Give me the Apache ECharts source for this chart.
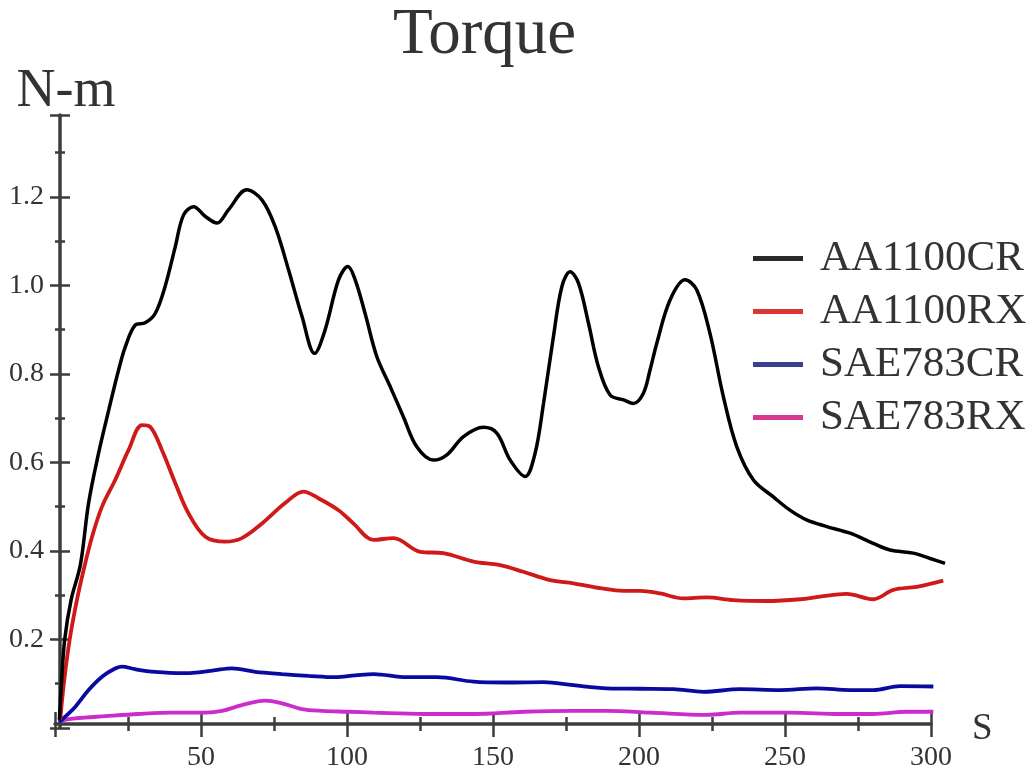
<!DOCTYPE html>
<html>
<head>
<meta charset="utf-8">
<title>Torque</title>
<script src="https://cdn.jsdelivr.net/npm/echarts@6/dist/echarts.min.js"></script>
<style>
  html, body { margin: 0; padding: 0; background: #ffffff; }
  #chart { width: 1033px; height: 772px; }
</style>
</head>
<body>
<div id="chart"></div>
<script>
// Torque (N-m) against sliding distance s, one curve per material / condition
const seriesNames = ['AA1100CR', 'AA1100RX', 'SAE783CR', 'SAE783RX'];

const aa1100cr = [
  [1.5,0.02],[2.2,0.10],[3.3,0.20],[5.5,0.29],[8.7,0.37],[11.5,0.509],[14.9,0.621],
  [18.4,0.719],[21.8,0.81],[24.1,0.862],[27.5,0.911],[30.9,0.916],[34.3,0.937],
  [37.7,0.998],[41.2,1.088],[44.0,1.159],[47.5,1.178],[51.5,1.156],[55.5,1.141],
  [59.4,1.171],[65.7,1.216],[70.9,1.193],[75.4,1.133],[80.0,1.035],[84.6,0.930],
  [88.9,0.847],[92.5,0.900],[97.1,1.013],[100.3,1.043],[102.8,1.013],[106.2,0.937],
  [110.2,0.840],[114.8,0.772],[119.3,0.704],[123.9,0.636],[129.6,0.606],[134.2,0.618],
  [139.9,0.659],[146.7,0.680],[151.3,0.667],[155.9,0.606],[161.0,0.569],[164.4,0.621],
  [167.3,0.734],[170.7,0.885],[173.6,0.998],[176.4,1.031],[179.3,1.005],[182.7,0.915],
  [186.1,0.817],[190.1,0.753],[194.7,0.742],[198.1,0.734],[201.5,0.757],[203.8,0.81],
  [206.1,0.870],[210.6,0.967],[215.8,1.013],[219.8,0.990],[224.3,0.892],[228.9,0.749],
  [233.5,0.636],[239.2,0.561],[246.0,0.523],[251.7,0.493],[257.4,0.471],[264.3,0.456],
  [272.3,0.441],[280.2,0.418],[286.0,0.403],[293.9,0.396],[299.7,0.384],[304.8,0.373]
];

const aa1100rx = [
  [1.8,0.02],[3.0,0.10],[5.0,0.20],[7.5,0.29],[9.8,0.358],[12.7,0.433],[16.1,0.501],
  [20.6,0.561],[25.2,0.629],[29.8,0.685],[32.6,0.681],[36.6,0.629],[41.2,0.554],
  [45.7,0.486],[51.5,0.433],[58.3,0.422],[64.0,0.430],[70.9,0.463],[78.8,0.509],
  [85.1,0.535],[90.2,0.520],[97.1,0.493],[102.2,0.463],[109.1,0.426],[115.9,0.430],
  [125.1,0.399],[133.0,0.396],[143.3,0.377],[152.4,0.369],[160.4,0.354],[169.6,0.335],
  [177.5,0.328],[186.7,0.317],[194.7,0.311],[200.4,0.311],[207.2,0.305],[215.2,0.294],
  [223.2,0.296],[232.3,0.290],[243.7,0.288],[255.2,0.292],[262.0,0.298],[271.1,0.304],
  [280.2,0.292],[287.1,0.313],[295.1,0.320],[304.2,0.334]
];

const sae783cr = [
  [1.5,0.015],[3.5,0.027],[6.9,0.049],[11.5,0.087],[16.1,0.117],[20.1,0.134],[22.9,0.140],
  [27.5,0.134],[34.3,0.128],[43.5,0.125],[49.2,0.127],[54.9,0.132],[60.6,0.136],
  [68.6,0.128],[77.7,0.123],[86.8,0.119],[96.0,0.116],[102.8,0.120],[109.1,0.123],
  [120.5,0.116],[130.8,0.116],[143.3,0.106],[154.7,0.104],[167.3,0.105],[177.5,0.098],
  [189.0,0.091],[200.4,0.090],[211.8,0.089],[222.1,0.083],[234.6,0.089],[248.3,0.087],
  [260.9,0.091],[272.3,0.087],[280.2,0.087],[289.4,0.096],[300.8,0.095]
];

const sae783rx = [
  [1.5,0.015],[2.9,0.019],[6.9,0.023],[17.2,0.028],[28.6,0.033],[40.1,0.036],[51.5,0.036],
  [57.2,0.040],[64.0,0.053],[72.0,0.063],[77.7,0.057],[84.6,0.044],[91.4,0.040],
  [100.5,0.038],[109.1,0.036],[126.2,0.033],[143.3,0.033],[160.4,0.038],[177.5,0.040],
  [189.0,0.040],[203.8,0.036],[223.2,0.031],[234.6,0.036],[251.7,0.036],[268.9,0.033],
  [280.2,0.033],[291.7,0.038],[300.8,0.038]
];

const seriesData = [aa1100cr, aa1100rx, sae783cr, sae783rx];
const lineColors = ['#000000', '#d01a1a', '#0a0aa0', '#cc2ccc'];
const legendColors = ['#2a2a2a', '#dd3434', '#3a3f8f', '#d8388f'];
const lineWidths = [3.5, 3.8, 3.8, 3.8];

const serif = '"Liberation Serif", "DejaVu Serif", serif';
const ink = '#333333';
const axisInk = '#3c3c3c';

// plot frame: s = 0 at x=55px, 2.92 px per unit of s; torque 0 at y=728.6px
const plotLeft = 55, plotTop = 115, plotHeight = 613.6;
const sMax = 300, sDataMax = 305, pxPerS = 876 / sMax;
const yMax = 1.385;

const chart = echarts.init(document.getElementById('chart'), null, { renderer: 'canvas' });

const xCommon = {
  type: 'value', min: 0, max: sMax, interval: 50,
  position: 'bottom', offset: -4, gridIndex: 0,
  splitLine: { show: false }
};
const yCommon = {
  type: 'value', min: 0, max: yMax, interval: 0.2,
  position: 'left', offset: -5, gridIndex: 0,
  splitLine: { show: false }
};

chart.setOption({
  backgroundColor: '#ffffff',
  animation: false,
  title: {
    text: 'Torque', left: 393, top: 3, padding: 0,
    textStyle: { fontFamily: serif, fontSize: 65, fontWeight: 'normal', color: ink }
  },
  legend: {
    orient: 'vertical', left: 753, top: 237, padding: 0,
    itemWidth: 50, itemHeight: 5, itemGap: 10, icon: 'rect',
    textStyle: { fontFamily: serif, fontSize: 43, color: ink, padding: [0, 0, 0, 12] },
    data: seriesNames.map((n, i) => ({ name: n, itemStyle: { color: legendColors[i] } }))
  },
  grid: [
    // axes frame
    { left: plotLeft, top: plotTop, width: sMax * pxPerS, height: plotHeight, containLabel: false },
    // curves frame, same scale, running a little past the last tick
    { left: plotLeft, top: plotTop, width: sDataMax * pxPerS, height: plotHeight, containLabel: false }
  ],
  xAxis: [
    Object.assign({}, xCommon, {
      name: 'S', nameLocation: 'end', nameGap: 41,
      nameTextStyle: { fontFamily: serif, fontSize: 37, color: ink, verticalAlign: 'top', lineHeight: 11 },
      axisLine: { show: true, onZero: false, lineStyle: { color: axisInk, width: 3.5 } },
      axisTick: { show: true, length: 13, lineStyle: { color: axisInk, width: 2.5 } },
      minorTick: { show: true, splitNumber: 2, length: 7, lineStyle: { color: axisInk, width: 2.5 } },
      axisLabel: { margin: 20, fontFamily: serif, fontSize: 28, color: ink, showMinLabel: false }
    }),
    Object.assign({}, xCommon, {
      axisLine: { show: false, onZero: false },
      axisTick: { show: true, inside: true, length: 12, lineStyle: { color: axisInk, width: 2.5 } },
      minorTick: { show: true, splitNumber: 2, length: 7, lineStyle: { color: axisInk, width: 2.5 } },
      axisLabel: { show: false }
    }),
    { type: 'value', gridIndex: 1, min: 0, max: sDataMax, show: false, splitLine: { show: false } }
  ],
  yAxis: [
    Object.assign({}, yCommon, {
      name: 'N-m', nameLocation: 'end', nameGap: -4,
      nameTextStyle: { fontFamily: serif, fontSize: 54, color: ink, padding: [0, 0, 0, 12] },
      axisLine: { show: true, onZero: false, lineStyle: { color: axisInk, width: 3.5 } },
      axisTick: { show: true, length: 10, lineStyle: { color: axisInk, width: 2.5 } },
      minorTick: { show: true, splitNumber: 2, length: 5, lineStyle: { color: axisInk, width: 2.5 } },
      axisLabel: {
        margin: 16, fontFamily: serif, fontSize: 28, color: ink,
        showMinLabel: false, showMaxLabel: false,
        formatter: v => v.toFixed(1)
      }
    }),
    Object.assign({}, yCommon, {
      axisLine: { show: false, onZero: false },
      axisTick: { show: true, inside: true, length: 10, lineStyle: { color: axisInk, width: 2.5 } },
      minorTick: { show: true, splitNumber: 2, length: 5, lineStyle: { color: axisInk, width: 2.5 } },
      axisLabel: { show: false }
    }),
    { type: 'value', gridIndex: 1, min: 0, max: yMax, show: false, splitLine: { show: false } }
  ],
  series: seriesNames.map((n, i) => ({
    name: n, type: 'line', data: seriesData[i],
    xAxisIndex: 2, yAxisIndex: 2,
    smooth: 0.35, showSymbol: false, symbol: 'none', clip: false,
    lineStyle: { color: lineColors[i], width: lineWidths[i] },
    itemStyle: { color: lineColors[i] },
    z: 4 - i
  }))
});
</script>
</body>
</html>
